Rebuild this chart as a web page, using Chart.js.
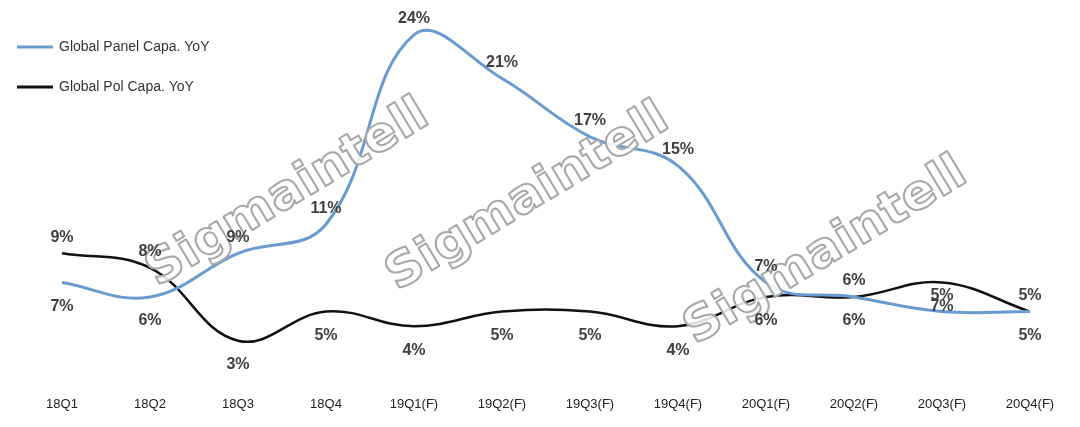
<!DOCTYPE html>
<html>
<head>
<meta charset="utf-8">
<script src="https://cdn.jsdelivr.net/npm/chart.js@4"></script>
<style>
    html, body { margin: 0; padding: 0; background: #fff; }
    #wrap { width: 1080px; height: 427px; position: relative; }
</style>
</head>
<body>
<div id="wrap"><canvas id="chartCapa"></canvas></div>
<script>
// Categories
const quarters = ['18Q1', '18Q2', '18Q3', '18Q4', '19Q1(F)', '19Q2(F)', '19Q3(F)', '19Q4(F)', '20Q1(F)', '20Q2(F)', '20Q3(F)', '20Q4(F)'];

// Series values (%)
const panelCapaYoY = [7, 6, 9, 11, 24, 21, 17, 15, 7, 6, 5, 5];
const polCapaYoY = [9, 8, 3, 5, 4, 5, 5, 4, 6, 6, 7, 5];

// label side for each point
const panelLabelSide = ['below', 'below', 'above', 'above', 'above', 'above', 'above', 'above', 'above', 'above', 'above', 'above'];
const polLabelSide = ['above', 'above', 'below', 'below', 'below', 'below', 'below', 'below', 'below', 'below', 'below', 'below'];

const BLUE = '#6a9bd0';
const BLACK = '#111111';

// watermark "Sigmaintell"
const watermarkPlugin = {
    id: 'watermark',
    afterDatasetsDraw(chart) {
        const ctx = chart.ctx;
        const spots = [[288, 194], [528, 198], [826, 252]];
        ctx.save();
        ctx.font = 'bold 48px "DejaVu Sans"';
        ctx.textAlign = 'center';
        ctx.textBaseline = 'middle';
        ctx.lineJoin = 'round';
        const w = ctx.measureText('Sigmaintell').width;
        spots.forEach(([x, y]) => {
            ctx.save();
            ctx.translate(x, y);
            ctx.rotate(-31 * Math.PI / 180);
            ctx.scale(320 / w, 1);
            ctx.fillStyle = 'rgba(255,255,255,0.85)';
            ctx.fillText('Sigmaintell', 0, 0);
            ctx.lineWidth = 2;
            ctx.strokeStyle = '#a8a8a8';
            ctx.strokeText('Sigmaintell', 0, 0);
            ctx.restore();
        });
        ctx.restore();
    }
};

// value labels above / below the points
const valueLabelPlugin = {
    id: 'valueLabels',
    afterDatasetsDraw(chart) {
        const ctx = chart.ctx;
        ctx.save();
        ctx.font = 'bold 16px Arial, "Liberation Sans"';
        ctx.fillStyle = '#404040';
        ctx.textAlign = 'center';
        ctx.textBaseline = 'middle';
        const sides = [panelLabelSide, polLabelSide];
        chart.data.datasets.forEach((ds, di) => {
            chart.getDatasetMeta(di).data.forEach((pt, i) => {
                const dy = sides[di][i] === 'above' ? -16 : 24;
                ctx.fillText(ds.data[i] + '%', pt.x, pt.y + dy);
            });
        });
        ctx.restore();
    }
};

// legend in the top left corner
const legendPlugin = {
    id: 'cornerLegend',
    afterDraw(chart) {
        const ctx = chart.ctx;
        const items = [['Global Panel Capa. YoY', BLUE, 47], ['Global Pol Capa. YoY', BLACK, 87]];
        ctx.save();
        ctx.font = '14px Arial, "Liberation Sans"';
        ctx.fillStyle = '#333';
        ctx.textBaseline = 'middle';
        items.forEach(([text, color, y]) => {
            ctx.strokeStyle = color;
            ctx.lineWidth = 3;
            ctx.beginPath();
            ctx.moveTo(17, y);
            ctx.lineTo(53, y);
            ctx.stroke();
            ctx.fillText(text, 59, y);
        });
        ctx.restore();
    }
};

new Chart(document.getElementById('chartCapa').getContext('2d'), {
    type: 'line',
    data: {
        labels: quarters,
        datasets: [{
            label: 'Global Panel Capa. YoY',
            data: panelCapaYoY,
            borderColor: BLUE,
            borderWidth: 3,
            pointRadius: 0,
            fill: false,
            tension: 0.4
        }, {
            label: 'Global Pol Capa. YoY',
            data: polCapaYoY,
            borderColor: BLACK,
            borderWidth: 2.5,
            pointRadius: 0,
            fill: false,
            tension: 0.4
        }]
    },
    options: {
        responsive: true,
        maintainAspectRatio: false,
        animation: false,
        layout: {
            padding: { left: 18, right: 6, top: 13, bottom: 3 }
        },
        plugins: {
            legend: { display: false },
            tooltip: { enabled: false }
        },
        scales: {
            x: {
                offset: true,
                grid: { display: false, drawTicks: false },
                border: { display: false },
                ticks: {
                    color: '#222',
                    font: { family: 'Arial, "Liberation Sans"', size: 13 },
                    padding: 12,
                    maxRotation: 0,
                    autoSkip: false
                }
            },
            y: {
                display: false,
                min: 0,
                max: 25.5
            }
        }
    },
    plugins: [watermarkPlugin, valueLabelPlugin, legendPlugin]
});
</script>
</body>
</html>
